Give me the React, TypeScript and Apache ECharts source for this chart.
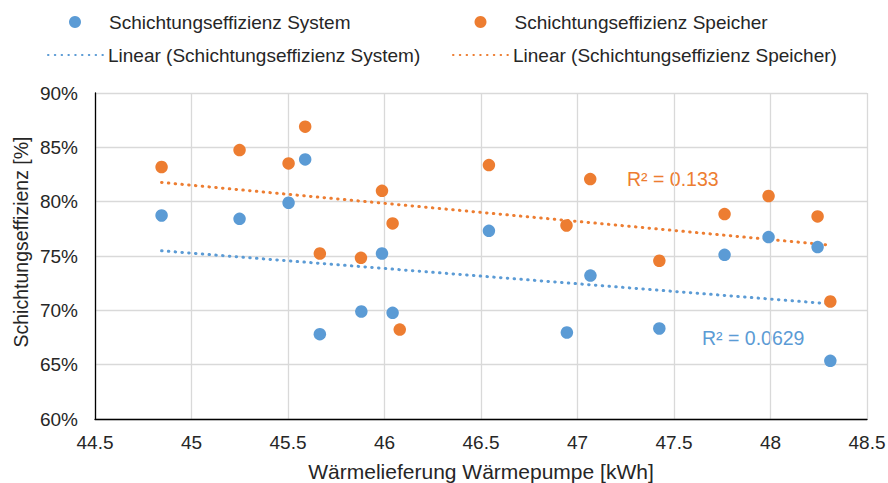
import React, { useEffect, useRef } from "react";
import * as echarts from "echarts";

const xTicks = [44.5, 45, 45.5, 46, 46.5, 47, 47.5, 48, 48.5];

const systemX = [44.845, 45.249, 45.503, 45.589, 45.665, 45.88, 45.987, 46.042, 46.541, 46.945, 47.067, 47.424, 47.762, 47.99, 48.244, 48.31];
const systemY = [78.73, 78.42, 79.9, 83.89, 67.81, 69.89, 75.23, 69.77, 77.32, 67.96, 73.2, 68.33, 75.11, 76.74, 75.82, 65.35];

const speicherX = [44.845, 45.249, 45.503, 45.589, 45.665, 45.878, 45.987, 46.042, 46.079, 46.541, 46.943, 47.066, 47.424, 47.762, 47.99, 48.244, 48.31];
const speicherY = [83.19, 84.75, 83.52, 86.9, 75.23, 74.83, 81.0, 78.0, 68.23, 83.37, 77.81, 82.08, 74.56, 78.86, 80.52, 78.64, 70.81];

const trendSystemX = [44.845, 48.31];
const trendSystemY = [75.48, 70.6];
const trendSpeicherX = [44.845, 48.31];
const trendSpeicherY = [81.77, 76.0];

const nameSystem = "Schichtungseffizienz System";
const nameSpeicher = "Schichtungseffizienz Speicher";
const nameTrendSystem = "Linear (Schichtungseffizienz System)";
const nameTrendSpeicher = "Linear (Schichtungseffizienz Speicher)";
const r2System = "R² = 0.0629";
const r2Speicher = "R² = 0.133";

const BLUE = "#5b9bd5";
const ORANGE = "#ed7d31";
const FONT = "'Liberation Sans', Arial, sans-serif";
const TEXT = "#262626";

const zip = (xs: number[], ys: number[]) => xs.map((x, i) => [x, ys[i]]);

export default function App() {
  const ref = useRef<HTMLDivElement>(null);
  useEffect(() => {
    if (!ref.current) return;
    const chart = echarts.init(ref.current, undefined, { renderer: "svg" });
    const legendBase = {
      orient: "horizontal",
      itemWidth: 58,
      itemHeight: 12,
      itemGap: 0,
      padding: 0,
      selectedMode: false,
      textStyle: { fontFamily: FONT, fontSize: 19, color: TEXT, lineHeight: 20 },
    };
    const lineLegendBase = {
      ...legendBase,
      itemWidth: 55,
      itemStyle: { opacity: 0, color: "transparent", borderWidth: 0 },
    };
    const dotted = { width: 3, type: [0.5, 6.3], cap: "round" };
    chart.setOption({
      animation: false,
      backgroundColor: "#ffffff",
      textStyle: { fontFamily: FONT },
      grid: { left: 95, right: 21, top: 93, bottom: 64, containLabel: false, outerBoundsMode: "none" },
      legend: [
        { ...legendBase, data: [nameSystem], left: 69, top: 12 },
        { ...legendBase, data: [nameSpeicher], left: 474.5, top: 12 },
        { ...lineLegendBase, data: [nameTrendSystem], left: 47, top: 45 },
        { ...lineLegendBase, data: [nameTrendSpeicher], left: 452, top: 45 },
      ],
      xAxis: {
        type: "value",
        min: xTicks[0],
        max: xTicks[xTicks.length - 1],
        interval: 0.5,
        name: "Wärmelieferung Wärmepumpe [kWh]",
        nameLocation: "middle",
        nameGap: 42,
        nameTextStyle: { fontFamily: FONT, fontSize: 21, color: TEXT },
        axisLine: { show: true, onZero: false, lineStyle: { color: "#000000", width: 1.3 } },
        axisTick: { show: false },
        axisLabel: { fontFamily: FONT, fontSize: 19, color: TEXT, margin: 14 },
        splitLine: { show: true, lineStyle: { color: "#d9d9d9", width: 1.3 } },
      },
      yAxis: {
        type: "value",
        min: 60,
        max: 90,
        interval: 5,
        axisLine: { show: true, onZero: false, lineStyle: { color: "#000000", width: 1.3 } },
        axisTick: { show: false },
        axisLabel: { fontFamily: FONT, fontSize: 19, color: TEXT, margin: 17, formatter: "{value}%" },
        splitLine: { show: true, lineStyle: { color: "#d9d9d9", width: 1.3 } },
      },
      graphic: [
        {
          type: "text",
          x: 21,
          y: 242,
          rotation: Math.PI / 2,
          style: {
            text: "Schichtungseffizienz [%]",
            fontFamily: FONT,
            fontSize: 19.5,
            fill: TEXT,
            textAlign: "center",
            textVerticalAlign: "middle",
          },
        },
        {
          type: "text",
          x: 627,
          y: 179,
          style: { text: r2Speicher, fontFamily: FONT, fontSize: 19.5, fill: ORANGE, textAlign: "left", textVerticalAlign: "middle" },
        },
        {
          type: "text",
          x: 702,
          y: 338,
          style: { text: r2System, fontFamily: FONT, fontSize: 19.5, fill: BLUE, textAlign: "left", textVerticalAlign: "middle" },
        },
      ],
      series: [
        {
          name: nameTrendSystem,
          type: "line",
          data: zip(trendSystemX, trendSystemY),
          symbol: "none",
          showSymbol: false,
          color: BLUE,
          lineStyle: { color: BLUE, ...dotted },
          z: 1,
        },
        {
          name: nameTrendSpeicher,
          type: "line",
          data: zip(trendSpeicherX, trendSpeicherY),
          symbol: "none",
          showSymbol: false,
          color: ORANGE,
          lineStyle: { color: ORANGE, ...dotted },
          z: 1,
        },
        {
          name: nameSystem,
          type: "scatter",
          data: zip(systemX, systemY),
          symbol: "circle",
          symbolSize: 12.5,
          itemStyle: { color: BLUE, opacity: 1 },
          z: 3,
        },
        {
          name: nameSpeicher,
          type: "scatter",
          data: zip(speicherX, speicherY),
          symbol: "circle",
          symbolSize: 12.5,
          itemStyle: { color: ORANGE, opacity: 1 },
          z: 3,
        },
      ],
    });
    return () => chart.dispose();
  }, []);
  return <div ref={ref} style={{ width: 888, height: 483, position: "fixed", left: 0, top: 0 }} />;
}
